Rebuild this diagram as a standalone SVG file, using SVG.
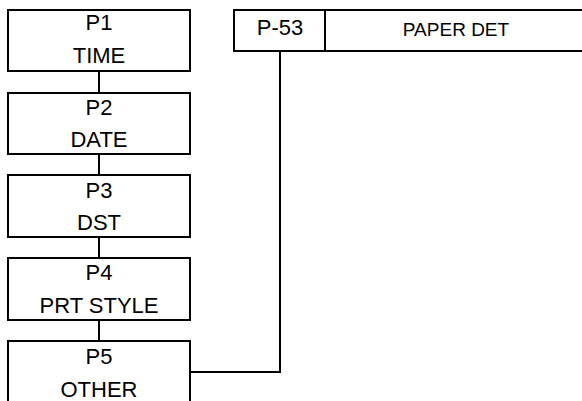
<svg xmlns="http://www.w3.org/2000/svg" width="582" height="401" viewBox="0 0 582 401">
<style>
.box{fill:#fff;stroke:#000;stroke-width:2}
.lcd{font-family:"Liberation Sans",Arial,sans-serif;font-size:22px;fill:#000;text-anchor:middle;font-weight:300}
.lbl{font-family:"Liberation Sans",Arial,sans-serif;font-size:19px;fill:#000;text-anchor:middle}
.conn{fill:none;stroke:#000;stroke-width:2}
</style>
<rect width="582" height="401" fill="#fff"/>
<g id="connectors">
<line class="conn" x1="99" y1="71" x2="99" y2="93"/>
<line class="conn" x1="99" y1="154" x2="99" y2="175"/>
<line class="conn" x1="99" y1="237" x2="99" y2="258"/>
<line class="conn" x1="99" y1="320" x2="99" y2="341"/>
<polyline class="conn" points="190,372 280,372 280,51"/>
</g>
<g id="p1">
<rect class="box" x="8" y="10" width="182" height="61"/>
<text class="lcd" x="99" y="30">P1</text>
<text class="lcd" x="99" y="63">TIME</text>
</g>
<g id="p2">
<rect class="box" x="8" y="93" width="182" height="61"/>
<text class="lcd" x="99" y="115">P2</text>
<text class="lcd" x="99" y="147">DATE</text>
</g>
<g id="p3">
<rect class="box" x="8" y="175" width="182" height="62"/>
<text class="lcd" x="99" y="198">P3</text>
<text class="lcd" x="99" y="230">DST</text>
</g>
<g id="p4">
<rect class="box" x="8" y="258" width="182" height="62"/>
<text class="lcd" x="99" y="280">P4</text>
<text class="lcd" x="99" y="313">PRT STYLE</text>
</g>
<g id="p5">
<rect class="box" x="8" y="341" width="182" height="70"/>
<text class="lcd" x="99" y="364">P5</text>
<text class="lcd" x="99" y="397">OTHER</text>
</g>
<g id="p53">
<rect class="box" x="234" y="10" width="360" height="41"/>
<line class="conn" x1="325" y1="10" x2="325" y2="51"/>
<text class="lcd" x="280" y="35">P-53</text>
<text class="lbl" x="456" y="36">PAPER DET</text>
</g>
</svg>
